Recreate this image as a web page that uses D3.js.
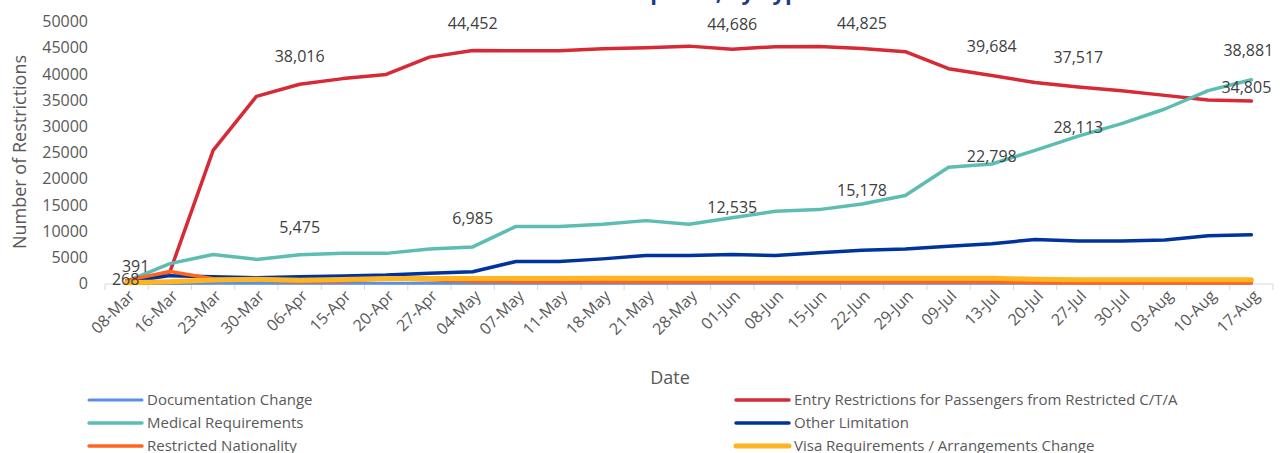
<!DOCTYPE html>
<html>
<head>
<meta charset="utf-8">
<script src="https://cdn.jsdelivr.net/npm/d3@7"></script>
<style>
  body { margin: 0; background: #fff; }
  svg { font-family: "Open Sans", sans-serif; }
</style>
</head>
<body>
<svg id="chart"></svg>
<script>
// Restrictions by type, weekly snapshots
const dates = ["08-Mar", "16-Mar", "23-Mar", "30-Mar", "06-Apr", "15-Apr", "20-Apr", "27-Apr", "04-May",
    "07-May", "11-May", "18-May", "21-May", "28-May", "01-Jun", "08-Jun", "15-Jun", "22-Jun", "29-Jun",
    "09-Jul", "13-Jul", "20-Jul", "27-Jul", "30-Jul", "03-Aug", "10-Aug", "17-Aug"];

const documentation = [0, 20, 30, 40, 40, 40, 40, 40, 40, 40, 40, 40, 40, 40, 40, 40, 40, 40, 40, 40, 40, 40, 40, 40, 40, 40, 40];
const entry = [268, 2200, 25400, 35700, 38016, 39100, 39900, 43200, 44452, 44400, 44400, 44800, 45000, 45300,
    44686, 45200, 45250, 44825, 44250, 41000, 39684, 38350, 37517, 36800, 35900, 35000, 34805];
const medical = [391, 3800, 5550, 4600, 5475, 5750, 5750, 6600, 6985, 10900, 10900, 11300, 12000, 11300,
    12535, 13800, 14100, 15178, 16800, 22200, 22798, 25400, 28113, 30500, 33300, 36800, 38881];
const other = [300, 1500, 1300, 1100, 1300, 1450, 1600, 1950, 2250, 4200, 4200, 4700, 5350, 5350,
    5550, 5350, 5850, 6350, 6600, 7100, 7600, 8400, 8100, 8100, 8300, 9100, 9300];
const restricted = [600, 2300, 900, 700, 350, 500, 900, 700, 450, 350, 350, 350, 300, 300,
    300, 300, 300, 300, 300, 300, 300, 150, 100, 100, 100, 100, 100];
const visa = [150, 350, 650, 800, 600, 750, 950, 950, 950, 950, 950, 1000, 1000, 1000,
    1000, 1000, 1000, 1000, 1000, 1000, 1000, 800, 700, 700, 700, 700, 700];

const seriesNames = ["Documentation Change", "Entry Restrictions for Passengers from Restricted C/T/A",
    "Medical Requirements", "Other Limitation", "Restricted Nationality", "Visa Requirements / Arrangements Change"];
const yTicks = [0, 5000, 10000, 15000, 20000, 25000, 30000, 35000, 40000, 45000, 50000];

// which points carry a value label
const labelIndex = [0, 4, 8, 14, 17, 20, 22, 26];

const width = 1284;
const height = 453;
const colors = ["#5b8fe0", "#d62a36", "#5dbdb3", "#00349c", "#ff6520", "#ffb51f"];
const lineWidths = [3, 3.5, 3.5, 3.5, 3.5, 5];

// label offsets from their point (dx, dy to text centre)
const entryOffsets = [[-1, -3], [0, -28], [0, -27], [0, -25], [0, -25], [0, -29], [0, -30], [-5, -14]];
const medicalOffsets = [[9, -15], [0, -28], [0, -29], [0, -11], [0, -14], [0, -8], [0, -9], [-3, -30]];

function drawChart() {
    const series = [documentation, entry, medical, other, restricted, visa];

    const svg = d3.select("#chart")
        .attr("width", width)
        .attr("height", height);

    const x = d3.scaleBand()
        .domain(dates)
        .range([105, 1273]);

    const y = d3.scaleLinear()
        .domain([0, 50000])
        .range([283.5, 21.5]);

    const cx = d => x(d) + x.bandwidth() / 2;

    // title (mostly above the visible area)
    svg.append("text")
        .attr("x", 812)
        .attr("y", 0)
        .attr("text-anchor", "end")
        .style("font-size", "22px")
        .style("font-weight", "bold")
        .style("fill", "#1f3a8a")
        .text("Travel Restrictions Imposed, by Type");

    // y axis
    const yAxis = svg.append("g")
        .attr("transform", "translate(105,0)")
        .call(d3.axisLeft(y).tickValues(yTicks).tickSize(0).tickPadding(17).tickFormat(d3.format("d")));
    yAxis.select(".domain").remove();
    yAxis.selectAll("text")
        .style("font-size", "16px")
        .style("fill", "#595959")
        .style("font-family", "Open Sans");

    // x axis line + tick marks between categories
    svg.append("line")
        .attr("x1", 105).attr("x2", 1273)
        .attr("y1", 284).attr("y2", 284)
        .style("stroke", "#d9d9d9")
        .style("stroke-width", 1);

    const boundaries = dates.map(d => x(d)).concat([x.range()[1]]);
    svg.selectAll(".xtick")
        .data(boundaries)
        .enter()
        .append("line")
        .attr("class", "xtick")
        .attr("x1", d => d).attr("x2", d => d)
        .attr("y1", 284).attr("y2", 290)
        .style("stroke", "#d9d9d9");

    svg.selectAll(".xlabel")
        .data(dates)
        .enter()
        .append("text")
        .attr("class", "xlabel")
        .attr("transform", d => `translate(${cx(d) + 5},${293}) rotate(-45)`)
        .attr("text-anchor", "end")
        .attr("dy", "0.35em")
        .style("font-size", "16px")
        .style("fill", "#595959")
        .text(d => d);

    // axis titles
    svg.append("text")
        .attr("transform", "translate(26,152) rotate(-90)")
        .attr("text-anchor", "middle")
        .style("font-size", "18px")
        .style("fill", "#595959")
        .text("Number of Restrictions");

    svg.append("text")
        .attr("x", 670)
        .attr("y", 384)
        .attr("text-anchor", "middle")
        .style("font-size", "18px")
        .style("fill", "#595959")
        .text("Date");

    // lines
    const line = d3.line()
        .x((d, i) => cx(dates[i]))
        .y(d => y(d));

    svg.selectAll(".series")
        .data(series)
        .enter()
        .append("path")
        .attr("class", "series")
        .attr("d", d => line(d))
        .style("fill", "none")
        .style("stroke", (d, i) => colors[i])
        .style("stroke-width", (d, i) => lineWidths[i])
        .style("stroke-linejoin", "round")
        .style("stroke-linecap", "round");

    // value labels
    const fmt = d3.format(",");
    const labels = [];
    labelIndex.forEach((idx, k) => {
        labels.push({ x: cx(dates[idx]) + entryOffsets[k][0], y: y(entry[idx]) + entryOffsets[k][1], v: entry[idx] });
        labels.push({ x: cx(dates[idx]) + medicalOffsets[k][0], y: y(medical[idx]) + medicalOffsets[k][1], v: medical[idx] });
    });

    svg.selectAll(".vlabel")
        .data(labels)
        .enter()
        .append("text")
        .attr("class", "vlabel")
        .attr("x", d => d.x)
        .attr("y", d => d.y)
        .attr("dy", "0.36em")
        .attr("text-anchor", "middle")
        .style("font-size", "16px")
        .style("fill", "#404040")
        .text(d => fmt(d.v));

    // legend, two columns
    const legend = svg.selectAll(".legend")
        .data(seriesNames)
        .enter()
        .append("g")
        .attr("class", "legend")
        .attr("transform", (d, i) => `translate(${89 + (i % 2) * 647},${400 + Math.floor(i / 2) * 23})`);

    legend.append("line")
        .attr("x1", 0).attr("x2", 53)
        .attr("y1", 0).attr("y2", 0)
        .style("stroke", (d, i) => colors[i])
        .style("stroke-width", (d, i) => lineWidths[i])
        .style("stroke-linecap", "round");

    legend.append("text")
        .attr("x", 58)
        .attr("dy", "0.36em")
        .style("font-size", "15px")
        .style("fill", "#595959")
        .text(d => d);
}

window.onload = drawChart;
</script>
</body>
</html>
